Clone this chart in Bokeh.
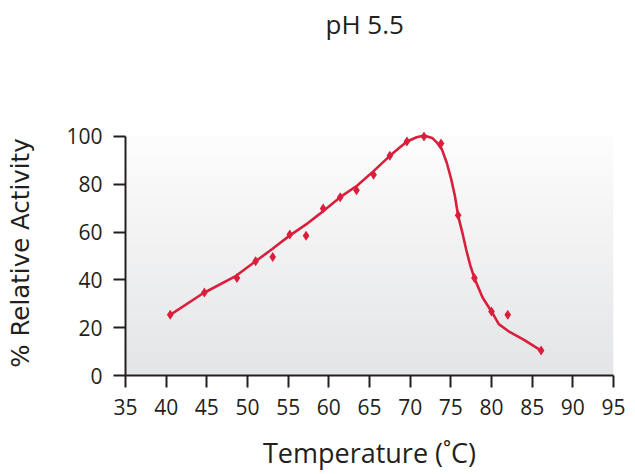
import numpy as np
from bokeh.plotting import figure
from bokeh.models import Range1d, FixedTicker, Title
from bokeh.embed import file_html
from bokeh.resources import INLINE

# ---- data ----
temps = [40.5, 44.7, 48.7, 51.0, 53.1, 55.2, 57.2, 59.3, 61.4, 63.4,
         65.5, 67.5, 69.6, 71.7, 73.8, 75.9, 77.9, 80.0, 82.0, 86.1]
activity = [25.4, 34.7, 40.8, 47.8, 49.6, 59.0, 58.5, 69.9, 74.6, 77.5,
            84.0, 91.9, 97.9, 100.0, 97.1, 67.0, 40.8, 26.8, 25.4, 10.5]

curve_temp = [40.5, 44.5, 48.6, 51.0, 53.0, 55.1, 57.2, 58.8, 61.4, 63.5,
              65.5, 67.5, 69.6, 70.8, 71.7, 72.7, 73.3, 73.9, 74.5, 75.05,
              75.5, 75.9, 76.4, 76.9, 77.4, 77.9, 78.9, 80.0, 80.9, 82.1,
              84.0, 86.1]
curve_act = [25.4, 34.3, 41.7, 47.8, 52.8, 58.3, 63.2, 67.4, 74.6, 79.5,
             85.5, 91.9, 97.9, 99.7, 100.4, 99.4, 97.4, 94.6, 89.0, 82.1,
             75.1, 66.8, 60.0, 52.5, 46.0, 40.7, 32.6, 26.8, 21.5, 18.5,
             14.9, 10.4]

x_ticks = [35, 40, 45, 50, 55, 60, 65, 70, 75, 80, 85, 90, 95]
y_ticks = [0, 20, 40, 60, 80, 100]

title_text = "pH 5.5"
x_label = "Temperature (˚C)"
y_label = "% Relative Activity"

RED = "#d91f3b"
INK = "#231f20"

p = figure(width=635, height=474,
           x_range=Range1d(35, 95), y_range=Range1d(0, 102.5),
           output_backend="svg", toolbar_location=None,
           min_border_left=125, min_border_right=22,
           min_border_top=129, min_border_bottom=99)
p.title = None
p.xgrid.visible = False
p.ygrid.visible = False
p.outline_line_color = None
p.background_fill_color = "white"
p.border_fill_color = "white"

# spacer between frame and title, then the title itself (outermost)
p.add_layout(Title(text=" ", text_font_size="10px", standoff=73), "above")
p.add_layout(Title(text=title_text, align="left", offset=200,
                   text_font="Open Sans", text_font_size="26px",
                   text_font_style="normal", text_color=INK, standoff=6),
             "above")

# gradient plot background (style only)
n = 256
img = np.zeros((n, 1), dtype=np.uint32)
view = img.view(dtype=np.uint8).reshape((n, 1, 4))
bottom = np.array([228, 229, 231], dtype=float)
top = np.array([253, 253, 253], dtype=float)
for i in range(n):
    t = i / (n - 1)
    c = bottom + (top - bottom) * t
    view[i, 0, 0] = int(c[0])
    view[i, 0, 1] = int(c[1])
    view[i, 0, 2] = int(c[2])
    view[i, 0, 3] = 255
p.image_rgba(image=[img], x=x_ticks[0], y=y_ticks[0],
             dw=x_ticks[-1] - x_ticks[0], dh=y_ticks[-1] - y_ticks[0])

p.line(curve_temp, curve_act, line_color=RED, line_width=2.6)
p.scatter(temps, activity, marker="diamond", size=10, color=RED, line_width=0)

for ax in (p.xaxis[0], p.yaxis[0]):
    ax.axis_line_color = INK
    ax.axis_line_width = 2
    ax.major_tick_line_color = INK
    ax.major_tick_line_width = 2
    ax.major_tick_out = 12
    ax.major_tick_in = 0
    ax.minor_tick_line_color = None
    ax.major_label_text_font = "Open Sans"
    ax.major_label_text_font_size = "21px"
    ax.major_label_text_color = INK
    ax.axis_label_text_font_style = "normal"
    ax.axis_label_text_color = INK

p.xaxis[0].ticker = FixedTicker(ticks=x_ticks)
p.yaxis[0].ticker = FixedTicker(ticks=y_ticks)
p.xaxis[0].bounds = (x_ticks[0], x_ticks[-1])
p.yaxis[0].bounds = (y_ticks[0], y_ticks[-1])
p.xaxis[0].major_label_standoff = 11
p.yaxis[0].major_label_standoff = 11

p.xaxis[0].axis_label = x_label
p.xaxis[0].axis_label_text_font = "Open Sans"
p.xaxis[0].axis_label_text_font_size = "27px"
p.xaxis[0].axis_label_standoff = 16
p.yaxis[0].axis_label = y_label
p.yaxis[0].axis_label_text_font = "DejaVu Sans"
p.yaxis[0].axis_label_text_font_size = "24.5px"
p.yaxis[0].axis_label_standoff = 28

open("out.html", "w").write(file_html(p, INLINE))
